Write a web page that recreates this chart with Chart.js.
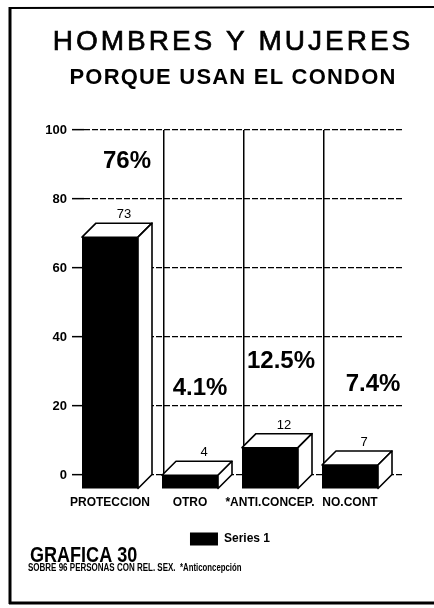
<!DOCTYPE html>
<html><head><meta charset="utf-8">
<script src="https://cdn.jsdelivr.net/npm/chart.js@4/dist/chart.umd.min.js"></script>
<style>html,body{margin:0;padding:0;background:#fff;} canvas{display:block;}</style>
</head><body>
<canvas id="c" width="434" height="608"></canvas>
<script>
// ---- data ----
const categories = ['PROTECCION', 'OTRO', '*ANTI.CONCEP.', 'NO.CONT'];
const values = [73, 4, 12, 7];
const percentLabels = ['76%', '4.1%', '12.5%', '7.4%'];
const yTicks = [0, 20, 40, 60, 80, 100];
const seriesName = 'Series 1';
const titleText = 'HOMBRES Y MUJERES';
const subtitleText = 'PORQUE USAN EL CONDON';
const footerTitle = 'GRAFICA 30';
const footerNote = 'SOBRE 96 PERSONAS CON REL. SEX.';
const footerNote2 = '*Anticoncepción';

// ---- layout only ----
const DEPTH = 14;
const pctPosV = [91, 25, 33, 26.4];
const pctPosDx = [3, -4, -3, 9];
const FONT = "'Liberation Sans', Arial, Helvetica, sans-serif";

const bars3d = {
  id: 'bars3d',
  beforeDatasetsDraw(chart) { chart.ctx.save(); chart.ctx.translate(-DEPTH, DEPTH); },
  afterDatasetsDraw(chart) {
    const ctx = chart.ctx;
    ctx.restore();
    const meta = chart.getDatasetMeta(0);
    const xs = chart.scales.x, ys = chart.scales.y;
    meta.data.forEach((bar, i) => {
      const p = bar.getProps(['x', 'y', 'base', 'width'], true);
      const L = p.x - p.width / 2 - DEPTH, R = p.x + p.width / 2 - DEPTH;
      const T = p.y + DEPTH, B = p.base + DEPTH;
      ctx.save();
      ctx.fillStyle = '#fff'; ctx.strokeStyle = '#000'; ctx.lineWidth = 1.6; ctx.lineJoin = 'round';
      ctx.beginPath(); ctx.moveTo(L, T); ctx.lineTo(R, T); ctx.lineTo(R + DEPTH, T - DEPTH); ctx.lineTo(L + DEPTH, T - DEPTH); ctx.closePath(); ctx.fill(); ctx.stroke();
      ctx.beginPath(); ctx.moveTo(R, T); ctx.lineTo(R + DEPTH, T - DEPTH); ctx.lineTo(R + DEPTH, B - DEPTH); ctx.lineTo(R, B); ctx.closePath(); ctx.fill(); ctx.stroke();
      ctx.fillStyle = '#000';
      ctx.font = '13px ' + FONT; ctx.textAlign = 'center'; ctx.textBaseline = 'alphabetic';
      ctx.fillText(String(values[i]), p.x, p.y - 5);
      ctx.font = 'bold 24px ' + FONT; ctx.textBaseline = 'middle';
      ctx.fillText(percentLabels[i], xs.getPixelForValue(i) + pctPosDx[i], ys.getPixelForValue(pctPosV[i]));
      ctx.restore();
    });
  }
};

const legendShift = {
  id: 'legendShift',
  afterLayout(chart) {
    if (chart.legend) { chart.legend.left += 6.5; chart.legend.right += 6.5; }
  }
};

const decor = {
  id: 'decor',
  afterDraw(chart) {
    const ctx = chart.ctx;
    ctx.save();
    ctx.fillStyle = '#000'; ctx.strokeStyle = '#000';
    // frame
    ctx.lineWidth = 3;
    ctx.beginPath(); ctx.moveTo(10, 7); ctx.lineTo(10, 604); ctx.stroke();
    ctx.lineWidth = 2;
    ctx.beginPath(); ctx.moveTo(9, 8); ctx.lineTo(434, 7); ctx.stroke();
    ctx.lineWidth = 3;
    ctx.beginPath(); ctx.moveTo(9, 603); ctx.lineTo(434, 603); ctx.stroke();
    // titles
    ctx.textAlign = 'center'; ctx.textBaseline = 'alphabetic';
    ctx.font = '28px ' + FONT; ctx.letterSpacing = '3px';
    ctx.lineWidth = 0.7;
    ctx.fillText(titleText, 233, 50);
    ctx.strokeText(titleText, 233, 50);
    ctx.font = 'bold 22px ' + FONT; ctx.letterSpacing = '1.2px';
    ctx.fillText(subtitleText, 233, 84);
    ctx.letterSpacing = '0px';
    // footer
    ctx.textAlign = 'left';
    ctx.save(); ctx.translate(30, 562); ctx.scale(0.82, 1);
    ctx.font = 'bold 22px ' + FONT; ctx.fillText(footerTitle, 0, 0); ctx.restore();
    ctx.save(); ctx.translate(28, 571); ctx.scale(0.8, 1);
    ctx.font = 'bold 10px ' + FONT; ctx.fillText(footerNote, 0, 0); ctx.restore();
    ctx.save(); ctx.translate(180, 571); ctx.scale(0.78, 1);
    ctx.font = 'bold 10px ' + FONT; ctx.fillText(footerNote2, 0, 0); ctx.restore();
    ctx.restore();
  }
};

new Chart(document.getElementById('c'), {
  type: 'bar',
  data: {
    labels: categories,
    datasets: [{
      label: seriesName,
      data: values,
      backgroundColor: '#000',
      borderColor: '#000',
      borderWidth: 0,
      barPercentage: 1,
      categoryPercentage: 0.7,
      clip: false
    }]
  },
  options: {
    responsive: false,
    devicePixelRatio: 1,
    animation: false,
    events: [],
    layout: { padding: { top: 130, left: 43, right: 30, bottom: 52.5 } },
    plugins: {
      title: { display: false },
      tooltip: { enabled: false },
      legend: {
        position: 'bottom',
        labels: {
          boxWidth: 28, boxHeight: 13, color: '#000',
          font: { family: FONT, size: 12, weight: 'bold' },
          padding: 3
        }
      }
    },
    scales: {
      x: {
        grid: {
          offset: true,
          color: c => (c.index === undefined || c.index === 0) ? 'rgba(0,0,0,0)' : '#000',
          lineWidth: 1.5,
          drawTicks: false
        },
        border: { display: false },
        ticks: {
          labelOffset: -DEPTH, padding: 20, color: '#000', autoSkip: false, maxRotation: 0,
          font: { family: FONT, size: 12, weight: 'bold' }
        }
      },
      y: {
        min: 0, max: 100,
        afterBuildTicks: s => { s.ticks = yTicks.map(v => ({ value: v })); },
        afterFit: s => { s.width = 41; },
        grid: { color: '#000', lineWidth: 1.3, tickLength: 12, tickColor: '#000', tickWidth: 1.5 },
        border: { display: false, dash: [6, 2] },
        ticks: { padding: 5, color: '#000', font: { family: FONT, size: 13, weight: 'bold' } }
      }
    }
  },
  plugins: [bars3d, legendShift, decor]
});
</script>
</body></html>
